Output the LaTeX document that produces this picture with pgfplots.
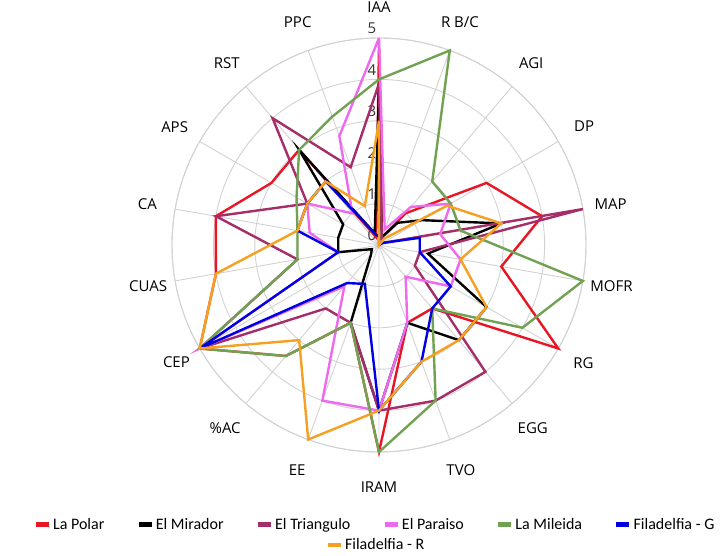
\documentclass[border=0pt]{standalone}
\usepackage{fontspec}
\setmainfont{Open Sans}
\newfontfamily\legfont{Carlito}
\usepackage{pgfplots}
\usepackage{pgfplotstable}
\pgfplotsset{compat=1.18}
\usepgfplotslibrary{polar}

\definecolor{cPolar}{RGB}{232,22,36}
\definecolor{cMirador}{RGB}{0,0,0}
\definecolor{cTriang}{RGB}{165,45,105}
\definecolor{cParaiso}{RGB}{238,105,238}
\definecolor{cMileida}{RGB}{112,162,82}
\definecolor{cFilG}{RGB}{0,0,228}
\definecolor{cFilR}{RGB}{245,160,32}
\definecolor{gridgray}{RGB}{210,210,210}

% scores per indicator (angle in degrees, clockwise from IAA at the top)
\pgfplotstableread{
ang   polar mirador triang paraiso mileida filg filr
90    4.8   3.8     3.9    5.0     4.0     0.2  3.0
70    0.2   0.2     0.2    0.4     5.0     0.0  0.0
50    1.0   0.7     0.1    1.2     2.0     0.0  0.2
30    3.0   1.2     0.1    2.0     2.0     0.1  1.9
10    4.0   3.0     5.0    1.5     2.0     1.0  3.0
-10   3.0   1.2     1.0    2.0     5.0     1.0  2.0
-30   5.0   3.0     1.0    2.0     4.0     2.0  3.0
-50   2.0   3.0     4.0    1.0     2.0     2.0  3.0
-70   2.0   2.0     4.0    2.0     4.0     3.0  3.0
-90   5.0   4.0     4.0    4.0     5.0     4.0  4.0
-110  2.0   2.0     2.0    4.0     2.0     1.0  5.0
-130  3.5   0.3     2.0    1.3     3.5     1.2  3.0
-150  5.0   0.2     5.0    5.0     5.0     5.0  5.0
-170  4.0   1.0     2.0    1.0     2.0     1.0  4.0
-190  4.0   1.0     4.0    1.7     2.0     2.0  2.0
-210  3.0   1.0     2.0    2.0     2.3     2.0  2.0
-230  3.0   3.0     4.0    1.0     3.0     2.0  2.0
-250  0.2   0.3     2.0    2.8     3.3     0.3  1.0
-270  4.8   3.8     3.9    5.0     4.0     0.2  3.0
}\scores

\begin{document}
\begin{tikzpicture}
\useasboundingbox (0pt,0pt) rectangle (728pt,556pt);
\begin{polaraxis}[
  at={(379pt,311pt)}, anchor=origin,
  width=414pt, height=414pt, scale only axis,
  xmin=0, xmax=360, ymin=0, ymax=5,
  xtick={10,30,...,350}, xticklabels={},
  ytick={0,1,...,5}, yticklabels={},
  xmajorgrids, ymajorgrids,
  major grid style={draw=gridgray, line width=0.9pt},
  x axis line style={draw=gridgray, line width=0.9pt},
  y axis line style={draw=none},
  major tick length=0pt,
  clip=false,
  every axis plot/.append style={line width=2.4pt, mark=none},
  legend columns=6,
  legend style={at={(axis cs:270,6.75)}, anchor=center, xshift=-4pt,
    draw=none, fill=none,
    font=\legfont\fontsize{16}{19}\selectfont,
    /tikz/every even column/.append style={column sep=30pt}},
  legend image code/.code={\draw[#1, line width=4.5pt] (0pt,0pt) -- (13pt,0pt);},
]
% radial scale numbers along the IAA spoke
\pgfplotsinvokeforeach{0,...,5}{
  \node[font=\fontsize{15}{17}\selectfont, text=black!80, xshift=-7pt, yshift=9.5pt] at (axis cs:90,#1) {#1};
}
% indicator names
\node[font=\fontsize{15}{18}\selectfont] at (axis cs:90,5.74)   {IAA};
\node[font=\fontsize{15}{18}\selectfont] at (axis cs:70,5.72)   {R B/C};
\node[font=\fontsize{15}{18}\selectfont] at (axis cs:50,5.72)   {AGI};
\node[font=\fontsize{15}{18}\selectfont] at (axis cs:30,5.72)   {DP};
\node[font=\fontsize{15}{18}\selectfont] at (axis cs:10,5.68)   {MAP};
\node[font=\fontsize{15}{18}\selectfont] at (axis cs:-10,5.70)  {MOFR};
\node[font=\fontsize{15}{18}\selectfont] at (axis cs:-30,5.70)  {RG};
\node[font=\fontsize{15}{18}\selectfont] at (axis cs:-50,5.78)  {EGG};
\node[font=\fontsize{15}{18}\selectfont] at (axis cs:-70,5.78)  {TVO};
\node[font=\fontsize{15}{18}\selectfont] at (axis cs:-90,5.85)  {IRAM};
\node[font=\fontsize{15}{18}\selectfont] at (axis cs:-110,5.78) {EE};
\node[font=\fontsize{15}{18}\selectfont] at (axis cs:-130,5.78) {\%AC};
\node[font=\fontsize{15}{18}\selectfont] at (axis cs:-150,5.65) {CEP};
\node[font=\fontsize{15}{18}\selectfont] at (axis cs:-170,5.66) {CUAS};
\node[font=\fontsize{15}{18}\selectfont] at (axis cs:-190,5.68) {CA};
\node[font=\fontsize{15}{18}\selectfont] at (axis cs:-210,5.70) {APS};
\node[font=\fontsize{15}{18}\selectfont] at (axis cs:-230,5.72) {RST};
\node[font=\fontsize{15}{18}\selectfont] at (axis cs:-250,5.74) {PPC};

\addplot[cPolar]    table[x=ang, y=polar]   {\scores}; \addlegendentry{La Polar}
\addplot[cMirador]  table[x=ang, y=mirador] {\scores}; \addlegendentry{El Mirador}
\addplot[cTriang]   table[x=ang, y=triang]  {\scores}; \addlegendentry{El Triangulo}
\addplot[cParaiso]  table[x=ang, y=paraiso] {\scores}; \addlegendentry{El Paraiso}
\addplot[cMileida]  table[x=ang, y=mileida] {\scores}; \addlegendentry{La Mileida}
\addplot[cFilG]     table[x=ang, y=filg]    {\scores}; \addlegendentry{Filadelfia - G}
\addplot[cFilR]     table[x=ang, y=filr]    {\scores};
\end{polaraxis}

% second legend row
\begin{axis}[
  hide axis, scale only axis, width=10pt, height=10pt,
  at={(376pt,11pt)}, anchor=center,
  xmin=0, xmax=1, ymin=0, ymax=1,
  legend style={at={(0.5,0.5)}, anchor=center, draw=none, fill=none,
    font=\legfont\fontsize{16}{19}\selectfont},
  legend image code/.code={\draw[#1, line width=4.5pt] (0pt,0pt) -- (13pt,0pt);},
]
\addlegendimage{cFilR, line width=2.4pt}
\addlegendentry{Filadelfia - R}
\end{axis}
\end{tikzpicture}
\end{document}
